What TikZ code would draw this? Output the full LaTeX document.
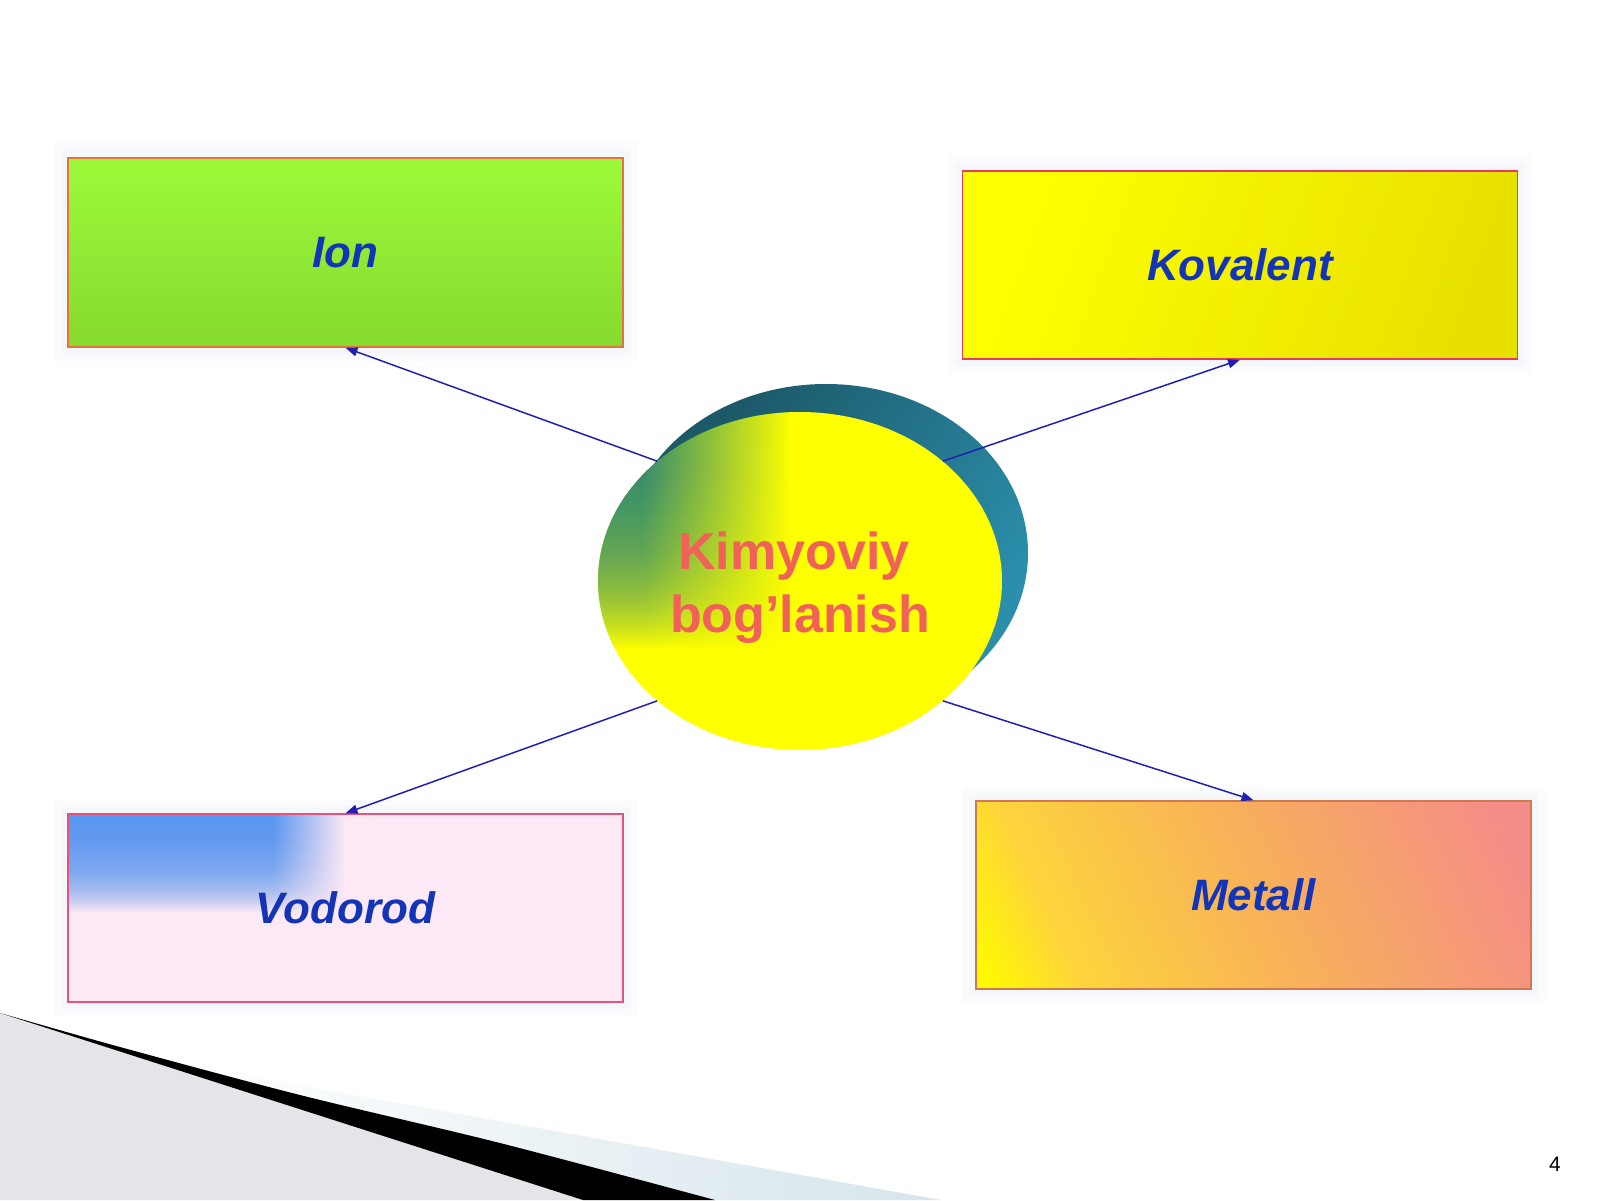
\documentclass[tikz,border=0pt]{standalone}
\usepackage{fontspec}
\setmainfont{Liberation Sans}
\usetikzlibrary{arrows.meta,shapes.geometric,fadings}

\definecolor{tealA}{HTML}{1C5A6A}
\definecolor{tealB}{HTML}{2B8EAA}
\definecolor{ballT}{HTML}{2A8C88}
\definecolor{yelF}{HTML}{FFFF00}
\definecolor{ionT}{HTML}{9CFA3A}
\definecolor{ionB}{HTML}{86DA2E}
\definecolor{kovL}{HTML}{FFFF00}
\definecolor{kovR}{HTML}{E8E100}
\definecolor{metA}{HTML}{FFFA00}
\definecolor{metB}{HTML}{FDD43C}
\definecolor{metC}{HTML}{F8B258}
\definecolor{metD}{HTML}{F48C88}
\definecolor{vpink}{HTML}{FDE8F6}
\definecolor{vblue}{HTML}{5898F0}
\definecolor{labc}{HTML}{1434B8}
\definecolor{ctext}{HTML}{F06258}
\definecolor{arrc}{HTML}{2020B4}
\definecolor{greyc}{HTML}{E3E5E8}
\definecolor{bandc}{HTML}{D6E5EB}
\definecolor{haloA}{HTML}{FAFBFC}
\definecolor{haloB}{HTML}{F5F7FA}
\definecolor{ionD}{HTML}{E8703A}
\definecolor{kovD}{HTML}{E83A60}
\definecolor{vodD}{HTML}{E8507E}
\definecolor{metE}{HTML}{D07850}

\pgfdeclarehorizontalshading{tealsh}{100bp}{color(0bp)=(tealA); color(30bp)=(tealA); color(72bp)=(tealB); color(100bp)=(tealB)}
\pgfdeclareverticalshading{ionsh}{100bp}{color(0bp)=(ionB); color(25bp)=(ionB); color(75bp)=(ionT); color(100bp)=(ionT)}
\pgfdeclarehorizontalshading{kovsh}{100bp}{color(0bp)=(kovL); color(25bp)=(kovL); color(75bp)=(kovR); color(100bp)=(kovR)}
\pgfdeclarehorizontalshading{metsh}{100bp}{color(0bp)=(metA); color(18bp)=(metA); color(28bp)=(metB); color(50bp)=(metC); color(80bp)=(metD); color(100bp)=(metD)}
\tikzfading[name=fadeleft, left color=transparent!100, right color=transparent!0]

\begin{document}
\begin{tikzpicture}[x=1pt,y=-1pt,
  box/.style={rectangle, minimum width=555pt, minimum height=189pt, inner sep=0pt,
    line width=1.5pt, text=labc, font=\fontsize{44}{53}\selectfont\bfseries\itshape},
  ovalsh/.style={ellipse, minimum width=404pt, minimum height=338pt, inner sep=0pt},
  conn/.style={draw=arrc, line width=1.5pt, -{Triangle[length=12pt,width=9pt]}},
  haloout/.style={fill=haloA}, haloin/.style={fill=haloB}]
\useasboundingbox (0,0) rectangle (1600,1200);
\fill[white] (0,0) rectangle (1600,1200);

% bottom-left decoration
\fill[greyc] (0,1013) -- (583,1200) -- (0,1200) -- cycle;
\shade[left color=white, right color=bandc] (180,1064) -- (941,1200) -- (715,1200) -- (500,1143) -- (300,1095) -- cycle;
\fill[black] plot[smooth] coordinates {(0,1013) (120,1047) (300,1095) (500,1143) (715,1200)} -- (583,1200) -- cycle;

% halos
\fill[haloout] (54,142) rectangle (637,361);
\fill[haloin] (61,150) rectangle (630,354);
\fill[haloout] (949,155) rectangle (1531,373);
\fill[haloin] (956,163) rectangle (1524,366);
\fill[haloout] (54,800) rectangle (637,1016);
\fill[haloin] (61,807) rectangle (630,1009);
\fill[haloout] (962,787) rectangle (1545,1003);
\fill[haloin] (969,794) rectangle (1538,996);

% boxes
\node[box, shading=ionsh, draw=ionD] (ion) at (345.5,252.5) {Ion};
\node[box, shading=kovsh, shading angle=-20, draw=kovD, minimum height=188pt] (kov) at (1240,265) {Kovalent};
\node[box, fill=vpink, draw=vodD, minimum height=188pt,
  path picture={
    \foreach \k [evaluate=\k as \hh using 2*\k+2] in {1,...,48}
      \fill[vblue, fill opacity=0.06] (path picture bounding box.north west) rectangle ++(282pt,-\hh pt);
    \fill[vpink, path fading=fadeleft] ([xshift=205pt]path picture bounding box.north west) rectangle ++(72pt,-110pt);
    \fill[vpink] ([xshift=276pt]path picture bounding box.north west) rectangle ++(16pt,-110pt);
  }] (vod) at (345.5,908) {Vodorod};
\node[box, shading=metsh, shading angle=25, draw=metE, minimum height=188pt] (met) at (1253.5,895) {Metall};

% central ellipses
\node[ovalsh, shading=tealsh, shading angle=-35] (back) at (826,553) {};
\node[ovalsh, fill=yelF,
  path picture={
    \foreach \k [evaluate=\k as \hh using 3*\k+8] in {1,...,76}
      \fill[ballT, fill opacity=0.036] (path picture bounding box.north west) rectangle ++(202pt,-\hh pt);
    \fill[yelF, path fading=fadeleft] ([xshift=45pt]path picture bounding box.north west) rectangle ++(148pt,-250pt);
    \fill[yelF] ([xshift=192pt]path picture bounding box.north west) rectangle ++(20pt,-250pt);
  }] (kb) at (800,581) {};
\node[text=ctext, align=center, inner sep=0pt, font=\fontsize{52}{63}\selectfont\bfseries] (kt) at (800,588) {Kimyoviy\hspace*{12pt}\\bog’lanish};

% connectors
\draw[conn] (kb.140) -- (ion.south);
\draw[conn] (kb.40) -- (kov.south);
\draw[conn] (kb.-140) -- (vod.north);
\draw[conn] (kb.-40) -- (met.north);

% page number
\node[font=\fontsize{21}{25}\selectfont, inner sep=0pt] (pg) at (1555,1164) {4};
\end{tikzpicture}
\end{document}
